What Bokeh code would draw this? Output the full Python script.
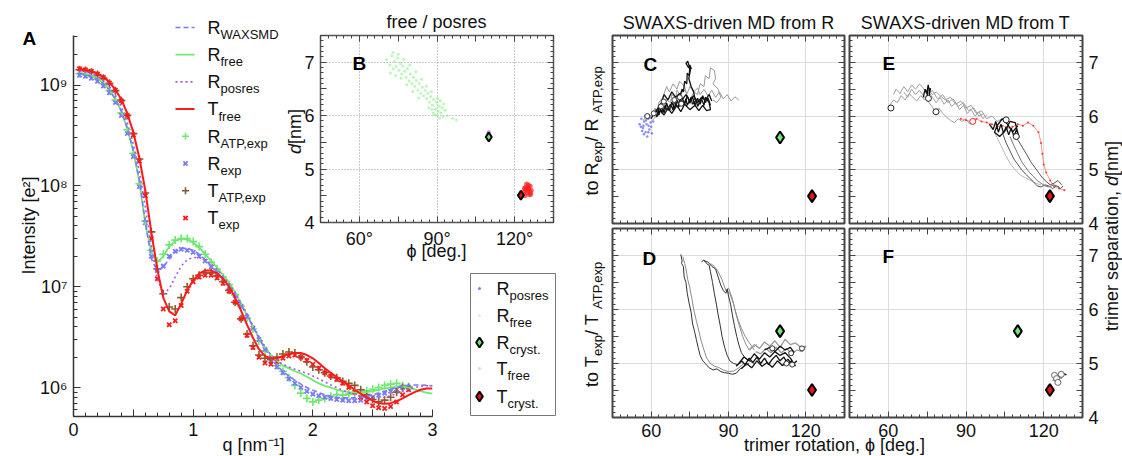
import math
from bokeh.plotting import figure
from bokeh.models import Range1d, LinearAxis, FixedTicker, CustomJSTickFormatter, Grid
from bokeh.layouts import column
from bokeh.core.properties import value
from bokeh.embed import file_html
from bokeh.resources import INLINE

H = 456
FONT = "Liberation Sans"

# ---------------- Panel A : SAXS/WAXS curves ----------------
q_model = [0.05, 0.10, 0.15, 0.20, 0.25, 0.30, 0.35, 0.40, 0.45, 0.50,
           0.55, 0.60, 0.65, 0.70, 0.75, 0.80, 0.85, 0.90, 0.95, 1.00,
           1.05, 1.10, 1.15, 1.20, 1.25, 1.30, 1.35, 1.40, 1.45, 1.50,
           1.55, 1.60, 1.65, 1.70, 1.75, 1.80, 1.85, 1.90, 1.95, 2.00,
           2.05, 2.10, 2.15, 2.20, 2.25, 2.30, 2.35, 2.40, 2.45, 2.50,
           2.55, 2.60, 2.65, 2.70, 2.75, 2.80, 2.85, 2.90, 2.95, 3.00]
R_WAXSMD = [1.30e9, 1.27e9, 1.22e9, 1.14e9, 1.03e9, 8.9e8, 7.2e8, 5.5e8, 3.7e8, 2.25e8,
            1.15e8, 4.4e7, 1.9e7, 1.45e7, 1.55e7, 1.9e7, 2.2e7, 2.4e7, 2.4e7, 2.3e7,
            2.1e7, 1.85e7, 1.6e7, 1.4e7, 1.2e7, 1.02e7, 8.3e6, 6.6e6, 5.2e6, 4.0e6,
            3.1e6, 2.4e6, 1.95e6, 1.65e6, 1.45e6, 1.3e6, 1.18e6, 1.08e6, 1.0e6, 9.4e5,
            8.9e5, 8.5e5, 8.2e5, 8.0e5, 7.9e5, 7.9e5, 7.9e5, 8.0e5, 8.2e5, 8.5e5,
            8.8e5, 9.2e5, 9.6e5, 1.0e6, 1.03e6, 1.05e6, 1.06e6, 1.06e6, 1.05e6, 1.04e6]
R_free = [1.32e9, 1.29e9, 1.24e9, 1.16e9, 1.05e9, 9.0e8, 7.3e8, 5.5e8, 3.7e8, 2.2e8,
          1.1e8, 4.2e7, 2.2e7, 1.75e7, 2.0e7, 2.5e7, 2.85e7, 3.0e7, 2.95e7, 2.75e7,
          2.45e7, 2.1e7, 1.8e7, 1.55e7, 1.3e7, 1.1e7, 8.8e6, 6.8e6, 5.2e6, 4.0e6,
          3.1e6, 2.5e6, 2.1e6, 1.85e6, 1.65e6, 1.55e6, 1.45e6, 1.38e6, 1.28e6, 1.18e6,
          1.1e6, 1.04e6, 1.0e6, 9.5e5, 9.2e5, 9.0e5, 8.9e5, 8.9e5, 9.0e5, 9.2e5,
          9.5e5, 9.8e5, 1.0e6, 1.02e6, 1.02e6, 1.0e6, 9.6e5, 9.2e5, 8.9e5, 8.7e5]
R_posres = [1.38e9, 1.35e9, 1.30e9, 1.22e9, 1.11e9, 9.6e8, 7.9e8, 6.1e8, 4.2e8, 2.6e8,
            1.4e8, 6.2e7, 2.6e7, 1.2e7, 8.5e6, 9.5e6, 1.25e7, 1.6e7, 1.85e7, 1.95e7,
            1.95e7, 1.85e7, 1.68e7, 1.48e7, 1.27e7, 1.07e7, 8.7e6, 6.9e6, 5.4e6, 4.1e6,
            3.2e6, 2.55e6, 2.1e6, 1.85e6, 1.7e6, 1.6e6, 1.52e6, 1.45e6, 1.38e6, 1.3e6,
            1.22e6, 1.14e6, 1.06e6, 1.0e6, 9.4e5, 8.9e5, 8.5e5, 8.2e5, 8.0e5, 7.9e5,
            7.9e5, 8.0e5, 8.3e5, 8.7e5, 9.2e5, 9.6e5, 1.0e6, 1.03e6, 1.04e6, 1.04e6]
T_free = [1.45e9, 1.42e9, 1.37e9, 1.30e9, 1.20e9, 1.07e9, 9.0e8, 7.2e8, 5.2e8, 3.4e8,
          1.9e8, 9.0e7, 3.5e7, 1.5e7, 7.8e6, 5.7e6, 5.2e6, 6.8e6, 9.2e6, 1.15e7,
          1.35e7, 1.45e7, 1.45e7, 1.35e7, 1.2e7, 1.0e7, 7.8e6, 5.8e6, 4.2e6, 3.1e6,
          2.4e6, 2.05e6, 1.95e6, 1.95e6, 2.05e6, 2.15e6, 2.2e6, 2.2e6, 2.1e6, 1.95e6,
          1.75e6, 1.55e6, 1.4e6, 1.27e6, 1.15e6, 1.05e6, 9.5e5, 8.7e5, 8.0e5, 7.4e5,
          7.0e5, 6.9e5, 7.0e5, 7.3e5, 7.8e5, 8.4e5, 9.0e5, 9.5e5, 9.8e5, 9.8e5]

q_exp = [0.05, 0.10, 0.15, 0.20, 0.25, 0.30, 0.35, 0.40, 0.45, 0.50,
         0.55, 0.60, 0.65, 0.70, 0.75, 0.80, 0.85, 0.90, 0.95, 1.00,
         1.05, 1.10, 1.15, 1.20, 1.25, 1.30, 1.35, 1.40, 1.45, 1.50,
         1.55, 1.60, 1.65, 1.70, 1.75, 1.80, 1.85, 1.90, 1.95, 2.00,
         2.05, 2.10, 2.15, 2.20, 2.25, 2.30, 2.35, 2.40, 2.45, 2.50,
         2.55, 2.60, 2.65, 2.70, 2.75, 2.80]
R_ATP_exp = [1.30e9, 1.27e9, 1.22e9, 1.14e9, 1.03e9, 8.8e8, 7.1e8, 5.3e8, 3.6e8, 2.1e8,
             1.05e8, 4.5e7, 2.3e7, 1.8e7, 2.1e7, 2.6e7, 2.9e7, 3.0e7, 3.0e7, 2.8e7,
             2.5e7, 2.1e7, 1.75e7, 1.5e7, 1.25e7, 1.05e7, 8.3e6, 6.4e6, 4.9e6, 3.8e6,
             2.9e6, 2.3e6, 1.9e6, 1.65e6, 1.45e6, 1.25e6, 1.05e6, 8.8e5, 7.8e5, 7.2e5,
             7.5e5, 7.8e5, 8.2e5, 8.5e5, 8.4e5, 8.6e5, 8.8e5, 9.0e5, 9.3e5, 9.6e5,
             1.0e6, 1.05e6, 1.08e6, 1.1e6, 1.05e6, 1.02e6]
R_exp = [1.25e9, 1.22e9, 1.17e9, 1.09e9, 9.8e8, 8.4e8, 6.7e8, 5.0e8, 3.3e8, 1.95e8,
         9.8e7, 4.3e7, 2.0e7, 1.45e7, 1.6e7, 2.0e7, 2.25e7, 2.35e7, 2.3e7, 2.2e7,
         2.0e7, 1.8e7, 1.58e7, 1.38e7, 1.2e7, 1.0e7, 8.2e6, 6.4e6, 5.0e6, 3.9e6,
         3.0e6, 2.4e6, 1.9e6, 1.6e6, 1.4e6, 1.22e6, 1.1e6, 1.0e6, 9.2e5, 8.6e5,
         8.3e5, 8.0e5, 7.8e5, 7.6e5, 7.5e5, 7.4e5, 7.4e5, 7.5e5, 7.7e5, 8.0e5,
         8.4e5, 8.8e5, 9.2e5, 9.6e5, 1.0e6, 1.0e6]
T_ATP_exp = [1.42e9, 1.39e9, 1.34e9, 1.27e9, 1.17e9, 1.04e9, 8.8e8, 7.0e8, 5.0e8, 3.3e8,
             1.85e8, 8.5e7, 3.5e7, 1.5e7, 8.5e6, 6.3e6, 6.0e6, 7.8e6, 1.0e7, 1.2e7,
             1.3e7, 1.38e7, 1.38e7, 1.28e7, 1.12e7, 9.2e6, 7.0e6, 4.8e6, 3.4e6, 2.6e6,
             2.1e6, 1.95e6, 1.9e6, 2.0e6, 2.15e6, 2.25e6, 2.2e6, 2.0e6, 1.8e6, 1.6e6,
             1.5e6, 1.4e6, 1.3e6, 1.25e6, 1.15e6, 1.1e6, 1.05e6, 9.5e5, 8.5e5, 7.6e5,
             7.2e5, 7.5e5, 8.0e5, 9.0e5, 1.0e6, 1.0e6]
T_exp = [1.45e9, 1.42e9, 1.37e9, 1.29e9, 1.19e9, 1.05e9, 8.9e8, 7.0e8, 5.0e8, 3.2e8,
         1.75e8, 8.0e7, 3.0e7, 1.2e7, 6.0e6, 4.2e6, 4.6e6, 6.5e6, 9.0e6, 1.12e7,
         1.25e7, 1.3e7, 1.3e7, 1.22e7, 1.08e7, 9.0e6, 7.0e6, 4.8e6, 3.3e6, 2.5e6,
         2.0e6, 1.75e6, 1.7e6, 1.8e6, 1.95e6, 2.05e6, 2.1e6, 2.0e6, 1.85e6, 1.7e6,
         1.55e6, 1.4e6, 1.3e6, 1.2e6, 1.1e6, 1.0e6, 9.0e5, 8.0e5, 7.2e5, 6.6e5,
         6.3e5, 6.2e5, 6.5e5, 7.2e5, 8.5e5, 9.5e5]

# ---------------- Panel B : free / posres clouds (phi [deg], d [nm]) ----------------
B_R_free = [(70.5, 7.05), (71.8, 6.95), (72.5, 7.12), (73.1, 6.88), (73.6, 7.02), (74.2, 6.92),
            (74.8, 7.08), (75.3, 6.85), (75.9, 6.97), (76.4, 6.78), (76.8, 6.93), (77.5, 6.83),
            (78.1, 6.72), (78.6, 6.88), (79.2, 6.65), (79.7, 6.78), (80.3, 6.6), (80.9, 6.72),
            (81.4, 6.55), (82.0, 6.66), (82.6, 6.48), (83.1, 6.6), (83.7, 6.42), (84.3, 6.53),
            (84.8, 6.37), (85.4, 6.47), (86.0, 6.32), (86.5, 6.42), (87.1, 6.25), (87.6, 6.36),
            (88.2, 6.2), (88.7, 6.3), (89.3, 6.12), (89.8, 6.25), (90.4, 6.08), (90.9, 6.18),
            (91.5, 6.05), (92.0, 6.15), (92.6, 6.22), (93.1, 6.1), (90.2, 6.32), (89.0, 6.02),
            (91.3, 6.28), (87.9, 6.45), (85.9, 6.55), (84.0, 6.68), (81.8, 6.82), (79.5, 6.95),
            (77.2, 7.05), (75.0, 7.15), (76.1, 6.7), (78.3, 6.58), (80.6, 6.45), (82.9, 6.33),
            (86.8, 6.15), (88.5, 6.05), (92.3, 5.98), (94.0, 6.0), (96.0, 5.95), (97.5, 5.92),
            (72.0, 6.8), (74.0, 6.75), (73.0, 7.18), (88.0, 6.12), (90.0, 6.0), (91.0, 5.95)]
B_T_free = [(123.5, 4.58), (124.2, 4.65), (124.8, 4.55), (125.4, 4.62), (126.0, 4.68), (124.6, 4.72),
            (125.7, 4.52), (123.9, 4.5), (126.4, 4.6), (125.1, 4.66), (124.4, 4.6), (125.9, 4.57),
            (124.9, 4.63), (125.3, 4.7), (123.8, 4.64), (126.2, 4.53)]
B_R_posres = [(109.8, 5.66), (110.4, 5.62), (110.0, 5.69), (109.6, 5.6)]
R_cryst = (110.0, 5.60)
T_cryst = (122.4, 4.51)

# ---------------- Panel C : SWAXS-driven MD from R, to R_exp ----------------
C_waxsmd = [(55.5, 5.85), (56.2, 5.95), (56.8, 5.78), (57.3, 5.9), (57.8, 5.7), (58.2, 5.85),
            (58.8, 5.95), (59.3, 5.75), (59.8, 5.88), (60.3, 5.68), (56.5, 5.72), (57.6, 6.0),
            (58.5, 5.62), (59.0, 5.82), (60.0, 5.8), (57.0, 5.82), (58.0, 5.92), (59.5, 5.97),
            (56.0, 5.8), (60.8, 5.9), (57.2, 5.66), (58.9, 5.7)]
C_gray_a = [(57, 5.92), (58.5, 6.05), (60, 6.0), (61.5, 6.15), (62, 6.08), (63.5, 6.22), (65, 6.15),
            (66, 6.3), (67.5, 6.25), (68, 6.4), (69.5, 6.33), (70, 6.48), (71.5, 6.38), (72.5, 6.5),
            (74, 6.42), (75, 6.55), (76.5, 6.45), (78, 6.52), (79, 6.4), (80.5, 6.5), (82, 6.38),
            (83.5, 6.48), (85, 6.35), (86.5, 6.45), (88, 6.32), (89.5, 6.4), (91, 6.28), (92.5, 6.36), (94, 6.3)]
C_gray_b = [(75, 6.3), (76.5, 6.45), (78, 6.4), (79, 6.6), (80.5, 6.55), (81, 6.75), (82.5, 6.7),
            (83, 6.9), (84.5, 6.85), (85, 6.7), (84, 6.6), (86, 6.5), (87, 6.35), (85.5, 6.25), (84, 6.3)]
C_gray_c = [(60, 5.9), (62, 6.0), (63, 6.25), (64.5, 6.35), (66, 6.55), (67, 6.45), (68.5, 6.6),
            (70, 6.5), (71, 6.65), (73, 6.55), (74, 6.35), (72, 6.2), (70, 6.25), (68, 6.1), (66, 6.2), (64, 6.05)]
C_black_a = [(60, 5.95), (61, 6.05), (62.5, 6.0), (63, 6.15), (64.5, 6.08), (65.5, 6.2), (66, 6.1),
             (67.5, 6.22), (68.5, 6.12), (69, 6.28), (70.5, 6.15), (71, 6.3), (72.5, 6.18), (73.5, 6.32),
             (74, 6.2), (75.5, 6.35), (76, 6.22), (77.5, 6.3), (78, 6.18), (79.5, 6.32), (80.5, 6.2),
             (81, 6.35), (82.5, 6.25), (83, 6.12), (81.5, 6.1), (80, 6.2), (78.5, 6.1), (77, 6.2),
             (75, 6.12), (73, 6.22), (71.5, 6.08), (70, 6.2), (68, 6.05), (66.5, 6.15), (65, 6.02),
             (63.5, 6.1), (62, 5.98)]
C_black_b = [(71, 6.35), (72, 6.5), (72.5, 6.45), (73, 6.65), (73.8, 6.6), (74, 6.8), (74.8, 6.75),
             (75, 6.95), (75.6, 6.88), (74.5, 6.9), (73.5, 6.98), (74.2, 7.02), (75.2, 6.85),
             (74.6, 6.7), (75.5, 6.55), (76.5, 6.45), (77, 6.3)]
C_black_c = [(62, 6.1), (64, 6.25), (65, 6.4), (66.5, 6.3), (68, 6.45), (69.5, 6.35), (71, 6.42),
             (72, 6.3), (73.5, 6.4), (75, 6.28), (76.5, 6.38), (78, 6.25), (79.5, 6.35), (81, 6.3),
             (82.5, 6.4), (83.5, 6.28)]
C_black_d = [(61, 6.0), (62, 6.12), (63, 6.02), (64, 6.18), (65, 6.06), (66, 6.24), (67, 6.1), (68, 6.26),
             (69, 6.14), (70, 6.3), (71, 6.18), (72, 6.34), (73, 6.22), (74, 6.38), (75, 6.24), (76, 6.36),
             (77, 6.2), (78, 6.33), (79, 6.22), (80, 6.38), (81, 6.25), (82, 6.34), (83, 6.2)]
C_starts = [(58.5, 6.0), (61, 6.05), (63.8, 6.18), (64.9, 6.27), (71.7, 6.23), (71.1, 6.35), (69, 6.3)]

# ---------------- Panel D : SWAXS-driven MD from R, to T_exp ----------------
D_line_a = [(71.5, 7.02), (72, 6.9), (71.8, 6.85), (72.5, 6.8), (72.8, 6.6), (73.5, 6.5), (74, 6.3),
            (74.8, 6.1), (75.5, 5.95), (76, 5.75), (76.8, 5.6), (77.5, 5.45), (78.2, 5.3), (79, 5.15),
            (80, 5.05), (81, 5.0), (82.5, 4.92), (84, 4.88), (85.5, 4.9), (87, 4.85), (88.5, 4.83),
            (90, 4.82), (91.5, 4.8), (93, 4.82), (94.5, 4.9), (96, 4.95), (98, 5.0)]
D_line_b = [(72.3, 6.98), (73, 6.85), (73.5, 6.75), (74.2, 6.55), (75, 6.4), (75.8, 6.2), (76.5, 6.0),
            (77.5, 5.8), (78.5, 5.6), (79.5, 5.4), (80.5, 5.25), (81.5, 5.1), (83, 5.0), (84.5, 4.95),
            (86, 4.93), (88, 4.88), (90, 4.85), (92, 4.86), (94, 4.92), (96, 5.0)]
D_line_c = [(79.5, 6.88), (80.5, 6.92), (81.5, 6.85), (82.5, 6.82), (83, 6.7), (83.8, 6.5), (84.5, 6.3),
            (85.3, 6.1), (86, 5.9), (86.8, 5.7), (87.5, 5.5), (88.5, 5.3), (89.5, 5.15), (90.5, 5.05),
            (92, 5.0), (93.5, 4.98), (95, 5.02)]
D_line_d = [(80.5, 6.9), (82, 6.88), (83.5, 6.8), (85, 6.75), (86, 6.6), (87, 6.45), (88, 6.35), (89, 6.3),
            (89.5, 6.38), (90, 6.25), (90.8, 6.1), (91.5, 5.9), (92.3, 5.7), (93.2, 5.5), (94, 5.35),
            (95, 5.2), (96.5, 5.1), (98, 5.05), (100, 5.0)]
D_line_e = [(83, 6.85), (84.5, 6.8), (86, 6.7), (87.5, 6.55), (89, 6.35), (90.5, 6.3), (92, 6.1), (93, 5.9),
            (94.2, 5.7), (95.5, 5.5), (96.8, 5.35), (98, 5.25), (99.5, 5.3), (101, 5.35)]
D_line_f = [(89, 6.35), (90, 6.4), (91.5, 6.2), (92.5, 6.0), (93.8, 5.8), (95, 5.65), (96.5, 5.5),
            (97.8, 5.4), (99, 5.32), (100, 5.25)]
D_black_mass = [(93, 4.95), (95, 5.05), (96.5, 4.98), (98, 5.1), (99.5, 5.02), (101, 5.12), (102.5, 5.0),
                (104, 5.1), (105.5, 4.98), (107, 5.08), (108.5, 5.15), (110, 5.05), (111.5, 5.12),
                (113, 4.98), (114.5, 5.05), (116, 4.95), (114, 5.1), (112, 5.2), (110, 5.15), (108, 5.22),
                (106, 5.12), (104, 5.2), (102, 5.08), (100, 5.18), (98, 5.05), (96, 5.12), (94, 5.0)]
D_black_lower = [(95, 4.9), (97, 5.0), (99, 4.92), (101, 5.05), (103, 4.95), (105, 5.02), (107, 4.93),
                 (109, 5.05), (111, 4.96), (113, 5.08), (115, 4.98), (116.5, 5.05)]
D_gray_mass = [(98, 5.25), (100, 5.35), (102, 5.28), (104, 5.4), (106, 5.32), (108, 5.42), (110, 5.3),
               (112, 5.45), (114, 5.35), (116, 5.38), (118, 5.3), (120, 5.32), (118.5, 5.22), (116.5, 5.25),
               (114.5, 5.18), (112.5, 5.28), (110.5, 5.2), (108.5, 5.3), (106.5, 5.2), (104.5, 5.28),
               (102.5, 5.18), (100.5, 5.22)]
D_black_upper = [(104, 5.25), (106, 5.3), (108, 5.22), (110, 5.32), (112, 5.25), (114, 5.3), (115.5, 5.2)]
D_starts = [(114.7, 4.98), (114.3, 5.19), (112.5, 5.0), (118.5, 5.28), (107, 5.28)]

# ---------------- Panel E : SWAXS-driven MD from T, to R_exp ----------------
E_gray_a = [(60.5, 6.2), (62, 6.3), (63.5, 6.25), (65, 6.38), (66.5, 6.3), (68, 6.42), (69.5, 6.35),
            (71, 6.28), (72.5, 6.38), (74, 6.3), (75.5, 6.45), (77, 6.35), (78.5, 6.25), (80, 6.35),
            (81.5, 6.22), (83, 6.3), (84.5, 6.18), (86, 6.25), (87.5, 6.12), (89, 6.2), (90.5, 6.05),
            (92, 6.12), (93.5, 6.0), (95, 6.08), (96.5, 5.95), (98, 6.02)]
E_gray_b = [(66, 6.45), (67.5, 6.35), (69, 6.5), (70.5, 6.4), (72, 6.48), (73.5, 6.38), (75, 6.3),
            (76.5, 6.2), (78, 6.1), (79.5, 6.15), (81, 6.05), (82.5, 5.98), (84, 5.92), (85.5, 5.88),
            (87, 5.95), (88.5, 5.9), (90, 5.95), (91.5, 5.85), (93, 5.9)]
E_gray_c = [(74, 6.45), (75.5, 6.5), (77, 6.4), (78.5, 6.45), (80, 6.38), (82, 6.3), (84, 6.35), (86, 6.22),
            (88, 6.28), (90, 6.15), (92, 6.2), (94, 6.05), (96, 6.1), (98, 5.95), (100, 6.0), (102, 5.9), (104, 5.95)]
E_gray_d = [(62, 6.4), (63, 6.5), (64.5, 6.42), (66, 6.55), (67.5, 6.45), (69, 6.58), (70.5, 6.5), (72, 6.6),
            (73.5, 6.52), (75, 6.4), (77, 6.48), (79, 6.32), (81, 6.4), (83, 6.25), (85, 6.32), (87, 6.18),
            (89, 6.25), (91, 6.1), (93, 6.15), (95, 6.0), (97, 6.05)]
E_black_top = [(73.5, 6.35), (74.2, 6.5), (74.8, 6.42), (75.4, 6.58), (75.9, 6.45), (76.3, 6.52),
               (75.6, 6.35), (74.9, 6.3), (75.2, 6.48)]
E_black_mass = [(99, 5.85), (100.5, 5.75), (101.5, 5.9), (102.5, 5.7), (103.5, 5.85), (104.5, 5.68),
                (105.5, 5.8), (106.5, 5.65), (107.5, 5.78), (108.5, 5.62), (109.5, 5.75), (110.5, 5.6),
                (109, 5.88), (107, 5.9), (105, 5.72), (103, 5.62), (101, 5.7), (102, 5.82), (104, 5.95),
                (106, 5.85), (108, 5.7), (110, 5.82)]
E_down_a = [(104, 5.7), (105.5, 5.5), (107, 5.35), (108.5, 5.2), (110, 5.1), (111.5, 5.0), (113, 4.92),
            (114.5, 4.85), (116, 4.78), (117.5, 4.7), (119, 4.68), (120.5, 4.72), (122, 4.7), (123.5, 4.65),
            (125, 4.7), (126.5, 4.65), (127.5, 4.7)]
E_down_b = [(107, 5.62), (108.5, 5.45), (110, 5.3), (111.5, 5.15), (113, 5.05), (114.5, 4.95), (116, 4.88),
            (117.5, 4.8), (119, 4.75), (120.5, 4.7), (122, 4.68), (124, 4.72), (126, 4.68)]
E_down_c = [(109, 5.62), (110.5, 5.52), (112, 5.4), (113.5, 5.28), (115, 5.15), (116.5, 5.05), (118, 4.95),
            (119.5, 4.85), (121, 4.78), (122.5, 4.72), (124, 4.75), (125.5, 4.8), (127, 4.72)]
E_down_d = [(101, 5.7), (103, 5.5), (105, 5.3), (107, 5.12), (109, 5.0), (111, 4.9), (113, 4.85),
            (115, 4.8), (117, 4.75), (119, 4.72)]
E_red = [(88, 5.95), (90, 5.92), (92, 5.9), (94, 5.95), (96, 5.9), (98, 5.88), (100, 5.85), (102, 5.8),
         (104, 5.82), (106, 5.78), (108, 5.8), (110, 5.85), (112, 5.82), (114, 5.88), (116, 5.82),
         (118, 5.7), (119, 5.5), (119.5, 5.3), (120, 5.1), (121, 4.95), (122.5, 4.8), (124, 4.7),
         (126, 4.65), (128, 4.62)]
E_starts = [(61, 6.15), (78.4, 6.08), (75.5, 6.33), (105.5, 5.93), (109.4, 5.62)]
E_red_start = [(92.6, 5.9)]

# ---------------- Panel F : SWAXS-driven MD from T, to T_exp ----------------
F_gray = [(123.5, 4.68), (124.2, 4.72), (124.8, 4.65), (125.3, 4.75), (125.8, 4.7), (126.2, 4.78),
          (126.8, 4.72), (127.3, 4.8), (127.8, 4.77)]
F_black = [(126, 4.75), (126.5, 4.8), (127, 4.78), (127.5, 4.82), (128.2, 4.8), (128.8, 4.79)]
F_starts = [(124.2, 4.78), (125, 4.72), (126.8, 4.8), (125.5, 4.65)]

PHI_RANGE = (45, 135)
D_RANGE = (4, 7.5)
x_major = [45, 60, 75, 90, 105, 120, 135]
x_minor = [45 + 3 * i for i in range(31)]
y_major = [4.0, 4.5, 5.0, 5.5, 6.0, 6.5, 7.0, 7.5]
y_minor = [round(4.0 + 0.1 * i, 2) for i in range(36)]

C_GREEN = "#6ee86e"
C_BLUE = "#7a7aff"
C_PURPLE = "#a45cf0"
C_RED = "#ff1a1a"
C_BROWN = "#8b5a2b"
TICK = "#444444"

deg_fmt = CustomJSTickFormatter(code="return (Math.abs(tick % 30) < 1e-6) ? tick.toFixed(0) + '\u00b0' : '';")
plain_deg_fmt = CustomJSTickFormatter(code="return (Math.abs(tick % 30) < 1e-6) ? tick.toFixed(0) : '';")
int_fmt = CustomJSTickFormatter(code="return (Math.abs(tick - Math.round(tick)) < 1e-6) ? tick.toFixed(0) : '';")
blank_fmt = CustomJSTickFormatter(code="return '';")


def place(p, left, top):
    p.styles = {"position": "absolute", "left": f"{left}px", "top": f"{top}px"}


def make_axis(ticks, minor, fmt=None, size="18px"):
    ax = LinearAxis(ticker=FixedTicker(ticks=ticks, minor_ticks=minor),
                    major_tick_in=6, major_tick_out=0, minor_tick_in=3, minor_tick_out=0,
                    major_tick_line_color=TICK, minor_tick_line_color=TICK,
                    axis_line_color=None)
    if fmt is None:
        ax.formatter = blank_fmt
        ax.major_label_text_font_size = "1px"
        ax.major_label_standoff = 0
    else:
        ax.formatter = fmt
        ax.major_label_text_font = FONT
        ax.major_label_text_font_size = size
        ax.major_label_text_color = "#111111"
        ax.major_label_standoff = 6
    return ax


def scatter_panel(left, top, w, h, bl, br, bt, bb, fmts, dotted_grid=False, outline="#444444", outline_w=2):
    p = figure(width=w, height=h, x_range=Range1d(*PHI_RANGE), y_range=Range1d(*D_RANGE),
               output_backend="svg", toolbar_location=None, title=None, frame_align=False,
               x_axis_location=None, y_axis_location=None,
               min_border_left=bl, min_border_right=br, min_border_top=bt, min_border_bottom=bb,
               border_fill_color=None, background_fill_color="white",
               outline_line_color=outline, outline_line_width=outline_w)
    p.grid.visible = False
    gkw = dict(grid_line_color="#999999", grid_line_dash="1 2") if dotted_grid else dict(grid_line_color="#dddddd")
    p.add_layout(Grid(dimension=0, ticker=FixedTicker(ticks=[60, 90, 120]), **gkw))
    p.add_layout(Grid(dimension=1, ticker=FixedTicker(ticks=[5, 6, 7]), **gkw))
    left_f, right_f, top_f, bottom_f = fmts
    p.add_layout(make_axis(y_major, y_minor, left_f), "left")
    p.add_layout(make_axis(y_major, y_minor, right_f), "right")
    p.add_layout(make_axis(x_major, x_minor, top_f), "above")
    p.add_layout(make_axis(x_major, x_minor, bottom_f), "below")
    place(p, left, top)
    return p


def unzip(pairs):
    return [a for a, _ in pairs], [b for _, b in pairs]


def track(p, pairs, color, width=1.0, alpha=1.0):
    xs, ys = unzip(pairs)
    p.line(xs, ys, line_color=color, line_width=width, line_alpha=alpha)


def crystals(p, green=True, red=True, size=12):
    if green:
        p.scatter([R_cryst[0]], [R_cryst[1]], marker="diamond", size=size, fill_color=C_GREEN,
                  line_color="black", line_width=2)
    if red:
        p.scatter([T_cryst[0]], [T_cryst[1]], marker="diamond", size=size, fill_color="#ee1111",
                  line_color="black", line_width=2)


def starts(p, pairs, edge="black", size=6):
    xs, ys = unzip(pairs)
    p.scatter(xs, ys, marker="circle", size=size, fill_color="white", line_color=edge, line_width=1)


# ---------------- Panel A figure ----------------
pA = figure(width=440, height=456, x_range=Range1d(0, 3), y_range=Range1d(5.16e5, 3.1e9),
            y_axis_type="log", output_backend="svg", toolbar_location=None, title=None,
            frame_align=False,
            min_border_left=73, min_border_right=8, min_border_top=35, min_border_bottom=40,
            border_fill_color=None, background_fill_color=None, outline_line_color=None)
pA.grid.visible = False
ya = pA.yaxis[0]
ya.ticker = FixedTicker(ticks=[1e6, 1e7, 1e8, 1e9],
                        minor_ticks=[k * 10 ** e for e in range(5, 10) for k in range(2, 10)])
ya.formatter = CustomJSTickFormatter(code="""
const e = Math.round(Math.log10(tick));
const sup = {"0":"\u2070","1":"\u00b9","2":"\u00b2","3":"\u00b3","4":"\u2074","5":"\u2075","6":"\u2076","7":"\u2077","8":"\u2078","9":"\u2079","-":"\u207b"};
return "10" + String(e).split("").map(c => sup[c]).join("");
""")
xa = pA.xaxis[0]
xa.ticker = FixedTicker(ticks=[0, 0.5, 1, 1.5, 2, 2.5, 3], minor_ticks=[round(0.1 * i, 1) for i in range(31)])
xa.formatter = int_fmt
for ax in (xa, ya):
    ax.major_tick_in = 7
    ax.major_tick_out = 0
    ax.minor_tick_in = 4
    ax.minor_tick_out = 0
    ax.axis_line_color = "#333333"
    ax.axis_line_width = 1.5
    ax.major_tick_line_color = "#333333"
    ax.minor_tick_line_color = "#333333"
    ax.major_label_text_font = FONT
    ax.major_label_text_font_size = "18px"
    ax.major_label_text_color = "#111111"
    ax.major_label_standoff = 6

pA.scatter(q_exp, R_ATP_exp, marker="cross", size=8, line_color=C_GREEN, line_width=1.6)
pA.scatter(q_exp, R_exp, marker="x", size=6, line_color=C_BLUE, line_width=1.8)
pA.scatter(q_exp, T_ATP_exp, marker="cross", size=8, line_color=C_BROWN, line_width=1.6)
pA.scatter(q_exp, T_exp, marker="x", size=6, line_color=C_RED, line_width=1.8)
pA.line(q_model, R_free, line_color=C_GREEN, line_width=1.8)
pA.line(q_model, R_WAXSMD, line_color=C_BLUE, line_width=1.6, line_dash="5 3")
pA.line(q_model, R_posres, line_color=C_PURPLE, line_width=1.6, line_dash="2 3")
pA.line(q_model, T_free, line_color=C_RED, line_width=2)
place(pA, 0, 0)

# ---------------- Panel B ----------------
pB = scatter_panel(270, 0, 300, 275, 50, 17, 35, 53, (int_fmt, None, None, deg_fmt),
                   dotted_grid=True, outline="#555555", outline_w=1.5)
bx, by = unzip(B_R_free)
pB.scatter(bx, by, marker="circle", size=3, fill_color="#8ef08e", line_color=None, fill_alpha=0.6)
bx, by = unzip(B_T_free)
pB.scatter(bx, by, marker="circle", size=5, fill_color="#ff2020", line_color=None, fill_alpha=0.7)
bx, by = unzip(B_R_posres)
pB.scatter(bx, by, marker="circle", size=4, fill_color="#b060ff", line_color=None, fill_alpha=0.8)
crystals(pB, size=9)

# ---------------- Panel C ----------------
pC = scatter_panel(560, 0, 300, 240, 52, 16, 35, 17, (None, None, None, None))
cx, cy = unzip(C_waxsmd)
pC.scatter(cx, cy, marker="circle", size=2.5, fill_color="#5a5aff", line_color=None, fill_alpha=0.7)
for t in (C_gray_a, C_gray_b, C_gray_c):
    track(pC, t, "#9a9a9a", 1.0)
for t in (C_black_a, C_black_b, C_black_c, C_black_d):
    track(pC, t, "#111111", 1.3)
starts(pC, C_starts, edge="#333333", size=5)
crystals(pC)

# ---------------- Panel E ----------------
pE = scatter_panel(800, 0, 322, 240, 49, 40, 35, 17, (None, int_fmt, None, None))
for t in (E_gray_a, E_gray_b, E_gray_c, E_gray_d):
    track(pE, t, "#a0a0a0", 1.0)
track(pE, E_down_d, "#b8b8b8", 1.0)
track(pE, E_red, "#ff5050", 0.8, 0.8)
ex, ey = unzip(E_red)
pE.scatter(ex, ey, marker="circle", size=2, fill_color="#ff3030", line_color=None)
for t in (E_down_a, E_down_c):
    track(pE, t, "#555555", 1.0)
track(pE, E_down_b, "#777777", 1.0)
for t in (E_black_top, E_black_mass):
    track(pE, t, "#111111", 1.3)
starts(pE, E_starts, edge="#222222", size=6)
starts(pE, E_red_start, edge="#ff2020", size=6)
crystals(pE, green=False)

# ---------------- Panel D ----------------
pD = scatter_panel(560, 200, 300, 256, 52, 16, 28, 39, (None, None, None, plain_deg_fmt))
for t in (D_line_b, D_line_e, D_line_f):
    track(pD, t, "#8c8c8c", 1.0)
for t in (D_line_a, D_line_c, D_line_d):
    track(pD, t, "#333333", 1.0)
track(pD, D_gray_mass, "#9a9a9a", 1.3)
for t in (D_black_mass, D_black_upper, D_black_lower):
    track(pD, t, "#111111", 1.3)
starts(pD, D_starts, edge="#333333", size=5)
crystals(pD)

# ---------------- Panel F ----------------
pF = scatter_panel(800, 200, 322, 256, 49, 40, 28, 39, (None, int_fmt, None, plain_deg_fmt))
track(pF, F_gray, "#8c8c8c", 1.5)
track(pF, F_black, "#111111", 1.5)
starts(pF, F_starts, edge="#666666", size=6)
crystals(pF)

# ---------------- Overlay: panel letters, titles, axis titles, legends ----------------
ov = figure(width=1122, height=456, x_range=Range1d(0, 1122), y_range=Range1d(0, H),
            output_backend="svg", toolbar_location=None, title=None, frame_align=False,
            x_axis_location=None, y_axis_location=None, min_border=0,
            background_fill_color=None, border_fill_color=None, outline_line_color=None)
ov.grid.visible = False
place(ov, 0, 0)

W = {" ": 278, ",": 278, ".": 278, "/": 278, "[": 278, "]": 278, "A": 667, "P": 667, "R": 722,
     "T": 611, "a": 556, "d": 556, "e": 556, "i": 222, "m": 833, "n": 556, "o": 556, "p": 556,
     "r": 333, "s": 500, "t": 278, "x": 500, "c": 500, "y": 500}
SHIFT = 0.35  # anchor offset (em) between Bokeh's text anchor and the glyph baseline


def tw(s, size):
    return sum(W.get(ch, 556) for ch in s) * size / 1000.0


def T(x, y, s, size=18, align="left", angle=0.0, style="normal", color="#111111"):
    """x, y = page position of the text baseline (y measured from the top)."""
    if angle == 0.0:
        y = y - SHIFT * size
    else:
        x = x - SHIFT * size
    ov.text(x=[x], y=[H - y], text=[s], text_font=value(FONT), text_font_size=f"{size}px",
            text_align=align, text_baseline="alphabetic", angle=angle, text_font_style=style,
            text_color=color)


def rot(xb, y_start, pieces):
    yc = y_start
    for s, size, sub, style in pieces:
        T(xb + (4 if sub else 0), yc, s, size, angle=math.pi / 2, style=style)
        yc -= tw(s, size)


def sub_entry(x, yc, main, sub):
    T(x, yc + 6.5, main, 18)
    T(x + tw(main, 18), yc + 11.5, sub, 13)


# panel letters
for letter, lx, ly in (("A", 22, 45), ("B", 352, 70), ("C", 643, 71), ("D", 642, 265),
                       ("E", 882, 70), ("F", 882, 263)):
    T(lx, ly, letter, 19, style="bold", color="black")

# titles
T(436, 28, "free / posres", 18, align="center")
T(728, 29, "SWAXS-driven MD from R", 18, align="center")
T(965, 29, "SWAXS-driven MD from T", 18, align="center")

# axis titles
T(35, 225, "Intensity [e\u00b2]", 18, align="center", angle=math.pi / 2)
T(253, 451, "q [nm\u207b\u00b9]", 18, align="center")
T(436, 257, "\u03d5 [deg.]", 18, align="center")
rot(301, 153.5, [("d", 18, False, "italic"), (" [nm]", 18, False, "normal")])
T(834, 451, "trimer rotation, \u03d5 [deg.]", 18, align="center")
rot(1118, 330.5, [("trimer separation, ", 18, False, "normal"), ("d", 18, False, "italic"),
                  (" [nm]", 18, False, "normal")])
rot(598, 195, [("to R", 18, False, "normal"), ("exp", 13, True, "normal"),
               (" / R", 18, False, "normal"), ("ATP,exp", 13, True, "normal")])
rot(598, 386.5, [("to T", 18, False, "normal"), ("exp", 13, True, "normal"),
                 (" / T", 18, False, "normal"), ("ATP,exp", 13, True, "normal")])

# legend of panel A
legA = [("R", "WAXSMD"), ("R", "free"), ("R", "posres"), ("T", "free"),
        ("R", "ATP,exp"), ("R", "exp"), ("T", "ATP,exp"), ("T", "exp")]
for i, (m, s) in enumerate(legA):
    sub_entry(207, 27 + 27.2 * i, m, s)
ycs = [H - (27 + 27.2 * i) for i in range(8)]
ov.line([175, 194], [ycs[0]] * 2, line_color=C_BLUE, line_width=1.6, line_dash="5 3")
ov.line([175, 194], [ycs[1]] * 2, line_color=C_GREEN, line_width=1.8)
ov.line([175, 194], [ycs[2]] * 2, line_color=C_PURPLE, line_width=1.6, line_dash="2 3")
ov.line([175, 194], [ycs[3]] * 2, line_color=C_RED, line_width=2)
ov.scatter([185], [ycs[4]], marker="cross", size=7, line_color=C_GREEN, line_width=1.6)
ov.scatter([185], [ycs[5]], marker="x", size=6, line_color=C_BLUE, line_width=1.8)
ov.scatter([185], [ycs[6]], marker="cross", size=7, line_color=C_BROWN, line_width=1.6)
ov.scatter([185], [ycs[7]], marker="x", size=6, line_color=C_RED, line_width=1.8)

# legend box for panels B-F
ov.quad(left=[470], right=[555], top=[H - 273], bottom=[H - 415], fill_color="white",
        line_color="#777777", line_width=1)
legM = [("R", "posres", 288), ("R", "free", 315), ("R", "cryst.", 342), ("T", "free", 368), ("T", "cryst.", 396)]
for m, s, yc in legM:
    sub_entry(496, yc, m, s)
ov.scatter([479], [H - 288], marker="circle", size=3, fill_color="#b060ff", line_color=None)
ov.scatter([479], [H - 315], marker="circle", size=3, fill_color="#d8f5d0", line_color=None)
ov.scatter([479], [H - 342], marker="diamond", size=10, fill_color=C_GREEN, line_color="black", line_width=2)
ov.scatter([479], [H - 368], marker="circle", size=3, fill_color="#f8c8d8", line_color=None)
ov.scatter([479], [H - 396], marker="diamond", size=10, fill_color="#ee1111", line_color="black", line_width=2)

root = column(pA, pB, pC, pE, pD, pF, ov, width=1122, height=456,
              styles={"position": "relative"})

open("out.html", "w").write(file_html(root, INLINE))
